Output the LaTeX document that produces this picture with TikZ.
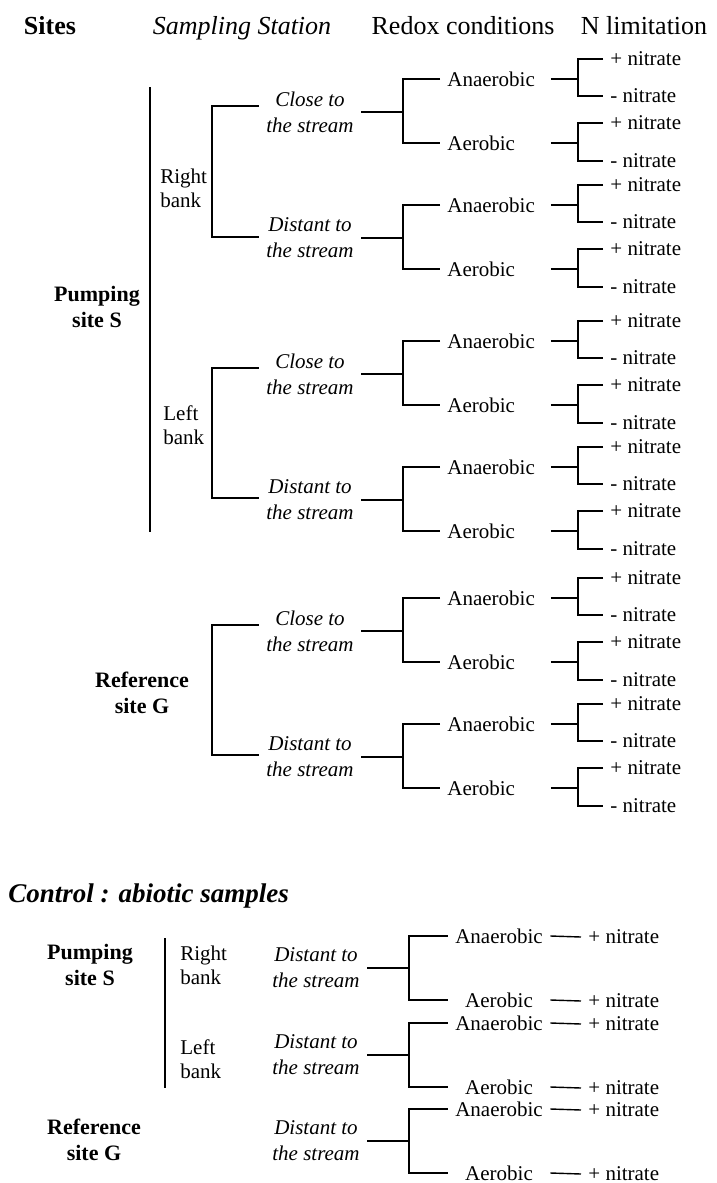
\documentclass[tikz,border=0pt]{standalone}
\usepackage{fontspec}
\setmainfont{Liberation Serif}
\usetikzlibrary{positioning}
\tikzset{
  head/.style={anchor=base, inner sep=0pt, font=\fontsize{13}{15.6}\selectfont},
  site/.style={align=center, inner sep=3.5pt, font=\bfseries\fontsize{11}{13}\selectfont},
  bank/.style={anchor=west, align=left, inner sep=3.5pt, font=\fontsize{10.5}{12}\selectfont},
  station/.style={align=center, inner sep=3.5pt, font=\itshape\fontsize{10.5}{13}\selectfont},
  redox/.style={anchor=west, text width=48pt, align=left, inner sep=3.5pt, font=\fontsize{10.5}{12.6}\selectfont},
  ctlredox/.style={text width=44pt, align=center, inner sep=3.5pt, font=\fontsize{10.5}{12.6}\selectfont},
  nitro/.style={anchor=west, inner sep=3.5pt, font=\fontsize{10.5}{12.6}\selectfont},
  link/.style={line width=0.7pt}
}
\begin{document}
\begin{tikzpicture}[x=0.5pt, y=-0.5pt]
  \useasboundingbox (0,0) rectangle (717,1183);

  \node[head] (hsites) at (50,34) {\bfseries Sites};
  \node[head] (hstation) at (242,34) {\itshape Sampling Station};
  \node[head] (hredox) at (463,34) {Redox conditions};
  \node[head] (hlimit) at (644,34) {N limitation};

  \node[site] (siteS) at (97,307) {Pumping\\site S};
  \coordinate (sTop) at (150,87);
  \coordinate (sBot) at (150,532);
  \draw[link] (sTop) -- (sBot);
  \node[bank] (rbank) at (153,188) {Right\\bank};
  \node[bank] (lbank) at (156,425) {Left\\bank};
  \node[site] (siteG) at (142,693) {Reference\\site G};

  \node[station] (rbc) at (310,112) {Close to\\the stream};
  \node[station] (rbd) at (310,238) {Distant to\\the stream};
  \node[station] (lbc) at (310,374) {Close to\\the stream};
  \node[station] (lbd) at (310,500) {Distant to\\the stream};
  \node[station] (gc) at (310,631) {Close to\\the stream};
  \node[station] (gd) at (310,757) {Distant to\\the stream};

  \coordinate (rbX) at (212,170);
  \coordinate (lbX) at (212,430);
  \coordinate (gX) at (212,690);
  \draw[link] ([yshift=3pt]rbc.west) -| (rbX) |- ([yshift=0.5pt]rbd.west);
  \draw[link] ([yshift=3pt]lbc.west) -| (lbX) |- ([yshift=1pt]lbd.west);
  \draw[link] ([yshift=3pt]gc.west) -| (gX) |- ([yshift=1pt]gd.west);

  \foreach \st/\s in {rbc/112, rbd/238, lbc/374, lbd/500, gc/631, gd/757} {
    \node[redox] (an\st) at (440,\s-33) {Anaerobic};
    \node[redox] (ae\st) at (440,\s+31) {Aerobic};
    \coordinate (rx\st) at (403,\s);
    \draw[link] (\st.east) -- (rx\st);
    \draw[link] (an\st.west) -| (rx\st) |- (ae\st.west);

    \node[nitro] (pan\st) at (603,\s-53) {+ nitrate};
    \node[nitro] (man\st) at (603,\s-16) {- nitrate};
    \node[nitro] (pae\st) at (603,\s+11) {+ nitrate};
    \node[nitro] (mae\st) at (603,\s+49) {- nitrate};
    \coordinate (nan\st) at (578,\s-33);
    \coordinate (nae\st) at (578,\s+31);
    \draw[link] (an\st.east) -- (nan\st);
    \draw[link] (pan\st.west) -| (nan\st) |- (man\st.west);
    \draw[link] (ae\st.east) -- (nae\st);
    \draw[link] (pae\st.west) -| (nae\st) |- (mae\st.west);
  }

  \node[anchor=base west, inner sep=0pt, font=\bfseries\itshape\fontsize{13.5}{16}\selectfont] (ctitle) at (8,902) {Control : abiotic samples};

  \node[site] (cS) at (90,965) {Pumping\\site S};
  \coordinate (cTop) at (165,938);
  \coordinate (cBot) at (165,1088);
  \draw[link] (cTop) -- (cBot);
  \node[bank] (crbank) at (173,965) {Right\\bank};
  \node[bank] (clbank) at (173,1059) {Left\\bank};
  \node[site] (cG) at (94,1140) {Reference\\site G};

  \node[station] (crd) at (316,968) {Distant to\\the stream};
  \node[station] (cld) at (316,1055) {Distant to\\the stream};
  \node[station] (cgd) at (316,1141) {Distant to\\the stream};

  \foreach \st/\s in {crd/968, cld/1055, cgd/1141} {
    \node[ctlredox] (an\st) at (499,\s-32) {Anaerobic};
    \node[ctlredox] (ae\st) at (499,\s+32) {Aerobic};
    \coordinate (rx\st) at (409,\s);
    \draw[link] (\st.east) -- (rx\st);
    \draw[link] (an\st.west) -| (rx\st) |- (ae\st.west);
    \node[nitro] (pan\st) at (581,\s-31) {+ nitrate};
    \node[nitro] (pae\st) at (581,\s+33) {+ nitrate};
    \draw[link] (an\st.east) -- (pan\st.west);
    \draw[link] (ae\st.east) -- (pae\st.west);
  }
\end{tikzpicture}
\end{document}
